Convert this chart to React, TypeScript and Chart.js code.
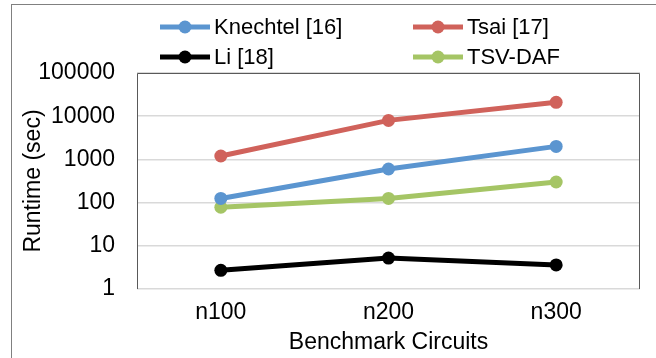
import React, { useEffect, useRef } from "react";
import { Chart, registerables } from "chart.js";

Chart.register(...registerables);

const categories = ["n100", "n200", "n300"];
const knechtel = [125, 600, 2000];
const tsai = [1200, 8000, 21000];
const li = [2.7, 5.2, 3.6];
const tsvdaf = [78, 125, 300];
const yTicks = [1, 10, 100, 1000, 10000, 100000];

const FONT = "'Liberation Sans', Arial, sans-serif";

const framePlugin = {
  id: "frame",
  beforeDraw(chart: any) {
    const ctx = chart.ctx;
    ctx.save();
    ctx.fillStyle = "#fff";
    ctx.fillRect(0, 0, chart.width, chart.height);
    ctx.strokeStyle = "#808080";
    ctx.lineWidth = 1;
    ctx.strokeRect(11.5, 4.5, chart.width + 20, chart.height + 20);
    ctx.restore();
  },
  beforeDatasetsDraw(chart: any) {
    const { ctx, chartArea: a } = chart;
    ctx.save();
    ctx.strokeStyle = "#595959";
    ctx.lineWidth = 1;
    ctx.beginPath();
    ctx.moveTo(a.left + 0.5, a.bottom);
    ctx.lineTo(a.left + 0.5, a.top + 0.5);
    ctx.lineTo(a.right - 0.5, a.top + 0.5);
    ctx.lineTo(a.right - 0.5, a.bottom);
    ctx.stroke();
    ctx.restore();
  },
};

const legendPlugin = {
  id: "customLegend",
  afterDraw(chart: any) {
    const ctx = chart.ctx;
    const cols = [160, 413];
    const rows = [27, 57];
    ctx.save();
    chart.data.datasets.forEach((ds: any, i: number) => {
      const x = cols[i % 2];
      const y = rows[Math.floor(i / 2)];
      ctx.strokeStyle = ds.borderColor;
      ctx.lineWidth = 5;
      ctx.beginPath();
      ctx.moveTo(x, y);
      ctx.lineTo(x + 50, y);
      ctx.stroke();
      ctx.fillStyle = ds.borderColor;
      ctx.beginPath();
      ctx.arc(x + 25, y, 6.5, 0, Math.PI * 2);
      ctx.fill();
      ctx.fillStyle = "#000";
      ctx.font = `22px ${FONT}`;
      ctx.textBaseline = "middle";
      ctx.textAlign = "left";
      ctx.fillText(ds.label, x + 54, y + 1);
    });
    ctx.restore();
  },
};

export default function App() {
  const ref = useRef<HTMLCanvasElement | null>(null);
  useEffect(() => {
    document.body.style.margin = "0";
    const mk = (label: string, data: number[], color: string) => ({
      label,
      data,
      borderColor: color,
      backgroundColor: color,
      borderWidth: 5,
      pointRadius: 6.5,
      pointBorderWidth: 0,
      pointBackgroundColor: color,
      tension: 0,
    });
    const chart = new Chart(ref.current!, {
      type: "line",
      data: {
        labels: categories,
        datasets: [
          mk("Knechtel [16]", knechtel, "#5B95D0"),
          mk("Tsai [17]", tsai, "#D0625B"),
          mk("Li [18]", li, "#000000"),
          mk("TSV-DAF", tsvdaf, "#A5C565"),
        ],
      },
      plugins: [framePlugin, legendPlugin],
      options: {
        responsive: false,
        animation: false,
        layout: { padding: { left: 16, right: 16, top: 73, bottom: 0 } },
        plugins: { legend: { display: false }, tooltip: { enabled: false } },
        scales: {
          x: {
            type: "category",
            offset: true,
            grid: { display: false, drawTicks: false },
            border: { display: false },
            ticks: { color: "#000", font: { family: FONT, size: 23 }, padding: 10, maxRotation: 0 },
            title: {
              display: true,
              text: "Benchmark Circuits",
              color: "#000",
              font: { family: FONT, size: 23 },
              padding: { top: 0, bottom: 2 },
            },
            afterFit: (s: any) => {
              s.height = 69;
            },
          },
          y: {
            type: "logarithmic",
            min: 1,
            max: 100000,
            grid: { color: "#D9D9D9", lineWidth: 1.5, drawTicks: false },
            border: { display: false },
            ticks: {
              color: "#000",
              font: { family: FONT, size: 23 },
              padding: 22,
              callback: (v: any) => String(v),
            },
            afterBuildTicks: (s: any) => {
              s.ticks = yTicks.map((v) => ({ value: v }));
            },
            title: {
              display: true,
              text: "Runtime (sec)",
              color: "#000",
              font: { family: FONT, size: 23 },
              padding: { top: 4, bottom: 4 },
            },
            afterFit: (s: any) => {
              s.width = 121;
            },
          },
        },
      },
    } as any);
    return () => chart.destroy();
  }, []);
  return <canvas ref={ref} width={656} height={358} style={{ display: "block" }} />;
}
